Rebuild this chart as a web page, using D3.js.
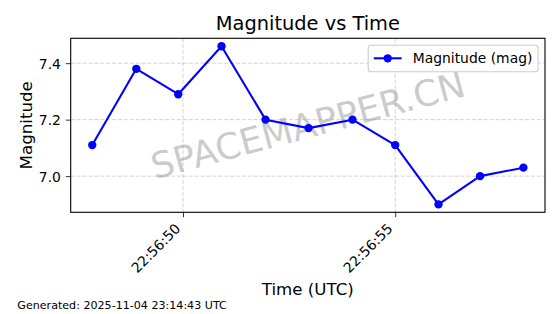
<!DOCTYPE html>
<html><head><meta charset="utf-8">
<script src="https://cdn.jsdelivr.net/npm/d3@7"></script>
<style>body{margin:0;background:#fff}svg{display:block}text{font-family:"DejaVu Sans",sans-serif}</style>
</head><body>
<script>
const times = ["22:56:47.862","22:56:48.900","22:56:49.888","22:56:50.908","22:56:51.945","22:56:52.958","22:56:53.994","22:56:55.000","22:56:56.020","22:56:57.000","22:56:58.022"];
const magnitudes = [7.11, 7.38, 7.29, 7.46, 7.20, 7.17, 7.20, 7.11, 6.90, 7.00, 7.03];
const yTicks = [7.0, 7.2, 7.4];
const xTickLabels = ["22:56:50", "22:56:55"];
const seriesName = "Magnitude (mag)";
const titleText = "Magnitude vs Time";
const footerText = "Generated: 2025-11-04 23:14:43 UTC";
const watermark = "SPACEMAPPER.CN";

const W = 560, H = 314;
const m = {l: 70.7, r: 545, t: 38.3, b: 212.3};
const parse = s => { const [hh, mm, ss] = s.split(":"); return new Date(Date.UTC(2025, 10, 4, +hh, +mm, 0, Math.round(+ss * 1000))); };
const data = times.map((t, i) => ({t: parse(t), v: magnitudes[i]}));

const tExt = d3.extent(data, d => +d.t), tPad = (tExt[1] - tExt[0]) * 0.05;
const x = d3.scaleTime().domain([new Date(tExt[0] - tPad), new Date(tExt[1] + tPad)]).range([m.l, m.r]);
const vExt = d3.extent(magnitudes), vPad = (vExt[1] - vExt[0]) * 0.05;
const y = d3.scaleLinear().domain([vExt[0] - vPad, vExt[1] + vPad]).range([m.b, m.t]);
const xTicks = xTickLabels.map(parse);

const svg = d3.select("body").append("svg").attr("width", W).attr("height", H);
svg.append("rect").attr("width", W).attr("height", H).attr("fill", "#fff");

// grid
const grid = svg.append("g").attr("stroke", "#b0b0b0").attr("stroke-opacity", 0.7).attr("stroke-width", 0.8).attr("stroke-dasharray", "4.1,1.8");
grid.selectAll("line.gx").data(xTicks).join("line").attr("x1", d => x(d)).attr("x2", d => x(d)).attr("y1", m.t).attr("y2", m.b);
grid.selectAll("line.gy").data(yTicks).join("line").attr("y1", d => y(d)).attr("y2", d => y(d)).attr("x1", m.l).attr("x2", m.r);

// watermark
svg.append("text").attr("x", (m.l + m.r) / 2).attr("y", (m.t + m.b) / 2)
  .attr("transform", `rotate(-15,${(m.l + m.r) / 2},${(m.t + m.b) / 2})`)
  .attr("text-anchor", "middle").attr("dominant-baseline", "central")
  .attr("font-size", 36).attr("fill", "#808080").attr("fill-opacity", 0.42).text(watermark);

// axes via d3
const xAxis = svg.append("g").attr("transform", `translate(0,${m.b})`)
  .call(d3.axisBottom(x).tickValues(xTicks).tickFormat(d3.utcFormat("%H:%M:%S")).tickSize(4.9).tickPadding(4.9));
xAxis.select(".domain").remove();
xAxis.selectAll(".tick line").attr("stroke", "#000").attr("stroke-width", 0.8);
xAxis.selectAll(".tick text").attr("font-size", 13.9).attr("fill", "#000").attr("text-anchor", "end")
  .attr("dy", null).attr("y", 0)
  .attr("transform", "translate(-2.2,17.3) rotate(-45)");

const yAxis = svg.append("g").attr("transform", `translate(${m.l},0)`)
  .call(d3.axisLeft(y).tickValues(yTicks).tickFormat(d3.format(".1f")).tickSize(4.9).tickPadding(4.9));
yAxis.select(".domain").remove();
yAxis.selectAll(".tick line").attr("stroke", "#000").attr("stroke-width", 0.8);
yAxis.selectAll(".tick text").attr("font-size", 13.9).attr("fill", "#000").attr("dy", "0.36em");

// line + markers
svg.append("path").datum(data).attr("fill", "none").attr("stroke", "#0000ff").attr("stroke-width", 2.08)
  .attr("stroke-linejoin", "round")
  .attr("d", d3.line().x(d => x(d.t)).y(d => y(d.v)));
svg.append("g").selectAll("circle").data(data).join("circle")
  .attr("cx", d => x(d.t)).attr("cy", d => y(d.v)).attr("r", 4.17).attr("fill", "#0000ff");

// frame
svg.append("rect").attr("x", m.l).attr("y", m.t).attr("width", m.r - m.l).attr("height", m.b - m.t)
  .attr("fill", "none").attr("stroke", "#000").attr("stroke-width", 1.1);

// legend
const lg = svg.append("g");
lg.append("rect").attr("x", 368.2).attr("y", 45.2).attr("width", 169.9).attr("height", 26.6).attr("rx", 2.8)
  .attr("fill", "#fff").attr("fill-opacity", 0.8).attr("stroke", "#cccccc").attr("stroke-width", 1.1);
lg.append("line").attr("x1", 373.8).attr("x2", 401.6).attr("y1", 58.3).attr("y2", 58.3).attr("stroke", "#0000ff").attr("stroke-width", 2.08);
lg.append("circle").attr("cx", 387.7).attr("cy", 58.3).attr("r", 4.17).attr("fill", "#0000ff");
lg.append("text").attr("x", 412.7).attr("y", 63.3).attr("font-size", 13.9).attr("fill", "#000").text(seriesName);

// title & labels
svg.append("text").attr("x", (m.l + m.r) / 2).attr("y", 30.2).attr("text-anchor", "middle").attr("font-size", 19.4).attr("fill", "#000").text(titleText);
svg.append("text").attr("x", (m.l + m.r) / 2).attr("y", 294.5).attr("text-anchor", "middle").attr("font-size", 16.67).attr("fill", "#000").text("Time (UTC)");
svg.append("text").attr("transform", `translate(31.5,${(m.t + m.b) / 2}) rotate(-90)`).attr("text-anchor", "middle").attr("font-size", 16.67).attr("fill", "#000").text("Magnitude");
svg.append("text").attr("x", 17.3).attr("y", 309).attr("font-size", 11.1).attr("fill", "#000").text(footerText);
</script>
</body></html>
